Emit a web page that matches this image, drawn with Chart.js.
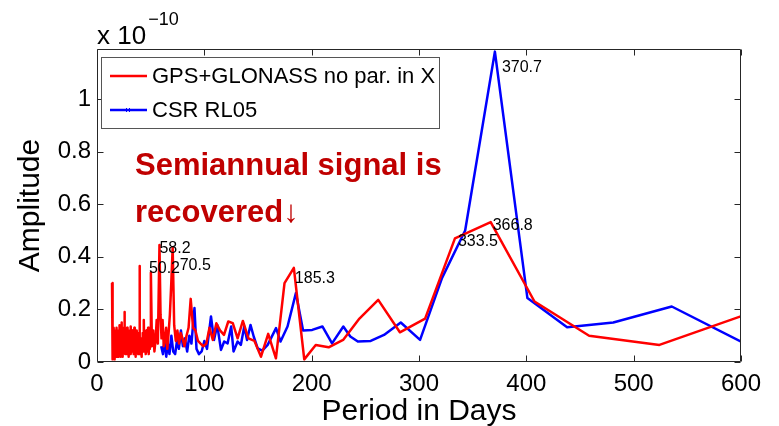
<!DOCTYPE html>
<html>
<head>
<meta charset="utf-8">
<script src="https://cdn.jsdelivr.net/npm/chart.js@4"></script>
<style>
  body { margin: 0; background: #fff; }
</style>
</head>
<body>
<canvas id="myChart" width="779" height="426"></canvas>
<script>
// amplitudes are in units of 1e-10
const redPeriod = [
  14.0, 14.15, 14.3, 14.45, 14.6, 14.75, 14.9, 15.05, 15.2, 15.35,
  15.5, 15.65, 15.8, 15.95, 16.1, 16.25, 16.4, 16.55, 16.7, 16.85,
  17.0, 17.15, 17.3, 17.45, 17.6, 17.75, 17.9, 18.05, 18.2, 18.35,
  18.5, 18.65, 18.8, 18.95, 19.1, 19.25, 19.4, 19.55, 19.7, 19.85,
  20.0, 20.25, 20.5, 20.75, 21.0, 21.25, 21.5, 21.75, 22.0, 22.25,
  22.5, 22.75, 23.0, 23.25, 23.5, 23.75, 24.0, 24.25, 24.5, 24.75,
  25.0, 25.25, 25.5, 25.75, 26.0, 26.25, 26.5, 26.75, 27.0, 27.25,
  27.5, 27.75, 28.0, 28.25, 28.5, 28.75, 29.0, 29.25, 29.5, 29.75,
  30.0, 30.4, 30.8, 31.2, 31.6, 32.0, 32.4, 32.8, 33.2, 33.6,
  34.0, 34.4, 34.8, 35.2, 35.6, 36.0, 36.4, 36.8, 37.2, 37.6,
  38.0, 38.4, 38.8, 39.2, 39.6, 40.0, 40.4, 40.8, 41.2, 41.6,
  42.0, 42.4, 42.8, 43.2, 43.6, 44.0, 44.4, 44.8, 45.2, 45.6,
  46.0, 46.4, 46.8, 47.2, 47.6, 48.0, 48.4, 48.8, 49.2, 49.6,
  50.2, 51.2, 52.4, 53.5, 54.7, 55.6, 56.7, 58.2, 59.2,
  60.1, 61.1, 62.2, 63.2, 64.4, 65.5, 66.7, 67.9, 69.2, 70.5, 71.9, 73.4, 74.9, 76.4, 78.0, 79.7,
  81.5, 83.4, 85.3, 87.3, 89.5, 91.7, 94.1, 96.5, 99.1, 101.9, 104.8, 107.9, 111.2, 114.6, 118.3,
  122.3, 126.5, 131.0, 135.9, 141.1, 146.7, 152.8, 159.5, 166.7, 174.7, 183.4, 193.1, 203.8, 215.8,
  229.3, 244.5, 262.0, 282.2, 305.7, 333.5, 366.8, 407.6, 458.5, 524.0, 611.3
];
const redAmp = [
  0.30, 0.08, 0.02, 0.11, 0.04, 0.09, 0.01, 0.12, 0.06, 0.03,
  0.10, 0.05, 0.13, 0.02, 0.08, 0.04, 0.11, 0.07, 0.01, 0.09,
  0.05, 0.12, 0.03, 0.08, 0.10, 0.02, 0.06, 0.13, 0.04, 0.09,
  0.02, 0.07, 0.11, 0.05, 0.03, 0.10, 0.06, 0.12, 0.02, 0.08,
  0.05, 0.11, 0.03, 0.09, 0.14, 0.04, 0.08, 0.02, 0.12, 0.06,
  0.10, 0.03, 0.15, 0.07, 0.04, 0.11, 0.02, 0.09, 0.13, 0.05,
  0.08, 0.06, 0.10, 0.19, 0.05, 0.03, 0.10, 0.07, 0.12, 0.04,
  0.11, 0.06, 0.13, 0.03, 0.08, 0.05, 0.10, 0.02, 0.07, 0.12,
  0.06, 0.10, 0.03, 0.08, 0.135, 0.05, 0.09, 0.12, 0.04, 0.07,
  0.11, 0.03, 0.13, 0.06, 0.09, 0.02, 0.10, 0.07, 0.12, 0.04,
  0.08, 0.03, 0.11, 0.06, 0.365, 0.07, 0.03, 0.09, 0.05, 0.02,
  0.09, 0.06, 0.11, 0.04, 0.16, 0.05, 0.08, 0.11, 0.03, 0.07,
  0.12, 0.04, 0.09, 0.06, 0.13, 0.03, 0.08, 0.11, 0.05, 0.09,
  0.34, 0.06, 0.12, 0.04, 0.09, 0.16, 0.07, 0.445, 0.18,
  0.09, 0.16, 0.06, 0.08, 0.13, 0.05, 0.11, 0.18, 0.30, 0.435, 0.14, 0.08, 0.12, 0.07, 0.11, 0.09,
  0.06, 0.10, 0.13, 0.24, 0.13, 0.12, 0.08, 0.07, 0.06, 0.07, 0.13, 0.084, 0.147, 0.12, 0.103,
  0.154, 0.148, 0.09, 0.156, 0.09, 0.08, 0.02, 0.107, 0.014, 0.30, 0.358, 0.01, 0.065, 0.056,
  0.084, 0.165, 0.236, 0.113, 0.165, 0.47, 0.532, 0.23, 0.10, 0.065, 0.19
];
const bluePeriod = [
  59.8, 61.5, 63.0, 64.5, 66.0, 67.5, 69.3, 71.0, 72.8, 74.5, 76.3, 78.2, 80.0, 82.0, 84.0, 86.0,
  88.0, 90.8, 92.7, 95.0, 97.5, 100.0, 102.5, 106.2, 109.0, 112.0, 115.5, 118.5, 121.7, 125.0,
  127.2, 131.0, 134.0, 137.2, 139.8, 143.0, 146.0, 149.7, 154.0, 159.0, 166.8, 171.0, 177.5,
  185.3, 192.0, 200.5, 210.0, 219.0, 229.5, 236.0, 243.0, 255.0, 267.4, 283.0, 301.0, 321.5,
  343.0, 370.7, 401.0, 438.0, 481.0, 535.5, 610.0
];
const blueAmp = [
  0.06, 0.03, 0.09, 0.02, 0.07, 0.03, 0.10, 0.04, 0.03, 0.08, 0.05, 0.12, 0.06, 0.09, 0.04, 0.10,
  0.07, 0.205, 0.05, 0.03, 0.04, 0.08, 0.05, 0.173, 0.084, 0.141, 0.046, 0.078, 0.071, 0.135,
  0.04, 0.078, 0.065, 0.135, 0.084, 0.141, 0.097, 0.052, 0.043, 0.065, 0.129, 0.078, 0.135,
  0.262, 0.12, 0.122, 0.135, 0.071, 0.135, 0.097, 0.078, 0.08, 0.103, 0.15, 0.084, 0.32,
  0.50, 1.18, 0.243, 0.132, 0.15, 0.211, 0.057
];
const xTicks = [0, 100, 200, 300, 400, 500, 600];
const yTicks = [0, 0.2, 0.4, 0.6, 0.8, 1];
const yTickLabels = ['0', '0.2', '0.4', '0.6', '0.8', '1'];
const seriesNames = ['GPS+GLONASS no par. in X', 'CSR RL05'];

// peak annotations: text, period, amplitude
const peakText = ['50.2', '58.2', '70.5', '185.3', '333.5', '366.8', '370.7'];
const peakPeriod = [50.2, 58.2, 70.5, 183.4, 333.5, 366.8, 370.7];
const peakAmp = [0.34, 0.445, 0.435, 0.358, 0.47, 0.532, 1.18];

const FONT = '"Liberation Sans", Arial, Helvetica, sans-serif';
const AXIS = '#262626';

const pts = (xs, ys) => xs.map((v, i) => ({ x: v, y: ys[i] }));

const decor = {
  id: 'decor',
  afterDatasetsDraw(chart) {
    const { ctx, chartArea: a, scales: { x, y } } = chart;
    ctx.save();

    // box with inward ticks
    const L = Math.round(a.left) + 0.5, R = Math.round(a.right) - 0.5;
    const T = Math.round(a.top) + 0.5, B = Math.round(a.bottom) - 0.5;
    ctx.strokeStyle = AXIS;
    ctx.lineWidth = 1;
    ctx.beginPath();
    ctx.rect(L, T, R - L, B - T);
    xTicks.forEach(v => {
      const px = Math.round(x.getPixelForValue(v)) + 0.5;
      ctx.moveTo(px, B); ctx.lineTo(px, B - 6);
      ctx.moveTo(px, T); ctx.lineTo(px, T + 6);
    });
    yTicks.forEach(v => {
      const py = Math.round(y.getPixelForValue(v)) + 0.5;
      ctx.moveTo(L, py); ctx.lineTo(L + 6, py);
      ctx.moveTo(R, py); ctx.lineTo(R - 6, py);
    });
    ctx.stroke();

    // peak labels
    const shift = [[-2, 0], [0, 8], [7, 22], [1, 15], [3, 8], [2, 8], [7, 20]];
    ctx.fillStyle = '#000';
    ctx.font = '16px ' + FONT;
    ctx.textAlign = 'left';
    ctx.textBaseline = 'alphabetic';
    peakText.forEach((t, i) => {
      const px = x.getPixelForValue(peakPeriod[i]);
      const py = y.getPixelForValue(peakAmp[i]);
      ctx.fillText(t, px + shift[i][0], py + shift[i][1]);
    });

    // legend box
    ctx.fillStyle = '#fff';
    ctx.fillRect(101.5, 57.5, 338, 71);
    ctx.strokeStyle = '#555';
    ctx.strokeRect(101.5, 57.5, 338, 71);
    const colors = ['#ff0000', '#0000ff'];
    const rows = [76, 110];
    ctx.lineWidth = 2.5;
    rows.forEach((ry, i) => {
      ctx.strokeStyle = colors[i];
      ctx.beginPath();
      ctx.moveTo(110, ry); ctx.lineTo(147, ry);
      ctx.stroke();
    });
    ctx.lineWidth = 1;
    ctx.strokeStyle = '#0000ff';
    ctx.beginPath();
    ctx.moveTo(126, 108); ctx.lineTo(130, 112);
    ctx.moveTo(126, 112); ctx.lineTo(130, 108);
    ctx.stroke();
    ctx.fillStyle = '#000';
    ctx.font = '22px ' + FONT;
    ctx.textBaseline = 'middle';
    seriesNames.forEach((n, i) => ctx.fillText(n, 152, rows[i] + 1));

    // red comment
    ctx.fillStyle = '#c00000';
    ctx.font = 'bold 31px ' + FONT;
    ctx.textBaseline = 'alphabetic';
    ctx.fillText('Semiannual signal is', 135, 175);
    ctx.fillText('recovered\u2193', 135, 222);

    // exponent
    ctx.fillStyle = '#000';
    ctx.font = '26px ' + FONT;
    ctx.fillText('x 10', 97, 44);
    const w = ctx.measureText('x 10').width;
    ctx.font = '18px ' + FONT;
    ctx.fillText('\u221210', 97 + w + 2, 25);

    ctx.restore();
  }
};

const ctx = document.getElementById('myChart').getContext('2d');
const myChart = new Chart(ctx, {
  type: 'line',
  data: {
    datasets: [
      {
        label: seriesNames[0],
        data: pts(redPeriod, redAmp),
        borderColor: '#ff0000',
        borderWidth: 2.5,
        pointRadius: 0,
        borderJoinStyle: 'round',
        tension: 0,
      },
      {
        label: seriesNames[1],
        data: pts(bluePeriod, blueAmp),
        borderColor: '#0000ff',
        borderWidth: 2.5,
        pointRadius: 0,
        borderJoinStyle: 'round',
        tension: 0,
      },
    ],
  },
  options: {
    responsive: false,
    animation: false,
    layout: { padding: { left: 0, top: 49, right: 38, bottom: 0 } },
    plugins: { legend: { display: false }, tooltip: { enabled: false } },
    scales: {
      x: {
        type: 'linear',
        min: 0,
        max: 600,
        afterFit: s => { s.height = 64; },
        afterBuildTicks: s => { s.ticks = xTicks.map(v => ({ value: v })); },
        grid: { display: false, drawTicks: false },
        border: { display: false },
        ticks: { color: '#000', padding: 8, maxRotation: 0, font: { family: FONT, size: 24 } },
        title: {
          display: true,
          text: 'Period in Days',
          color: '#000',
          padding: { top: 0, bottom: -4 },
          font: { family: FONT, size: 30 },
        },
      },
      y: {
        type: 'linear',
        min: 0,
        max: 1.19,
        afterFit: s => { s.width = 97; },
        afterBuildTicks: s => { s.ticks = yTicks.map(v => ({ value: v })); },
        grid: { display: false, drawTicks: false },
        border: { display: false },
        ticks: {
          color: '#000',
          padding: 6,
          font: { family: FONT, size: 24 },
          callback: (v, i) => yTickLabels[i],
        },
        title: {
          display: true,
          text: 'Amplitude',
          color: '#000',
          padding: { top: 13, bottom: 0 },
          font: { family: FONT, size: 30 },
        },
      },
    },
  },
  plugins: [decor],
});
</script>
</body>
</html>
